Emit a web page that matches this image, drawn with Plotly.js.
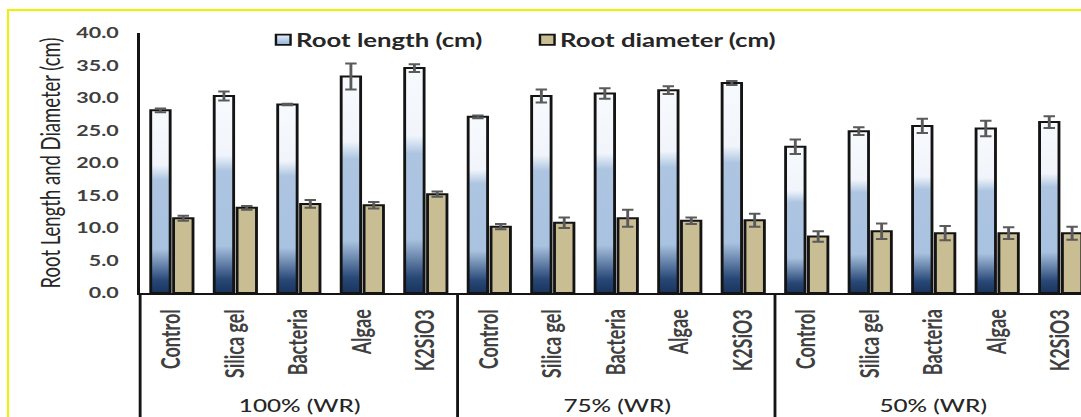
<!DOCTYPE html>
<html><head><meta charset="utf-8">
<script src="https://cdn.plot.ly/plotly-3.0.1.min.js"></script>
<style>
html,body{margin:0;padding:0;background:#fff;overflow:hidden;width:1081px;height:417px;}
#wrap{position:absolute;left:0;top:0;width:756px;height:417px;transform:scaleX(1.4299);transform-origin:0 0;}
#frame{position:absolute;left:7px;top:9px;width:1200px;height:500px;border-top:2px solid #f0f000;border-left:2px solid #f0f000;pointer-events:none;}
</style></head><body>
<div id="wrap"><div id="chart" style="width:756px;height:417px"></div></div>
<div id="frame"></div>
<script>
var groups = ['100% (WR)', '75% (WR)', '50% (WR)'];
var treatments = ['Control', 'Silica gel', 'Bacteria', 'Algae', 'K2SiO3'];
var rootLength    = [28.1, 30.3, 29.0, 33.3, 34.6,  27.1, 30.3, 30.7, 31.2, 32.3,  22.5, 24.9, 25.7, 25.3, 26.3];
var rootLengthErr = [0.3, 0.7, 0.1, 2.0, 0.6,  0.2, 1.0, 0.8, 0.6, 0.3,  1.1, 0.6, 1.1, 1.2, 0.9];
var rootDiameter    = [11.5, 13.1, 13.7, 13.5, 15.2,  10.2, 10.8, 11.5, 11.1, 11.2,  8.7, 9.5, 9.2, 9.2, 9.2];
var rootDiameterErr = [0.4, 0.3, 0.6, 0.5, 0.4,  0.4, 0.8, 1.3, 0.5, 1.0,  0.8, 1.2, 1.1, 0.9, 1.0];
var seriesNames = ['Root length (cm)', 'Root diameter (cm)'];

var xs = [], tickText = [];
groups.forEach(function(g, gi){
  treatments.forEach(function(t, ti){ xs.push(gi * treatments.length + ti); tickText.push(t); });
});

var errStyle = {type:'data', color:'#5a5a5a', thickness:2, width:4, visible:true};
var traces = [
  {type:'bar', name:seriesNames[0], x:xs, y:rootLength, legend:'legend',
   error_y:Object.assign({array:rootLengthErr}, errStyle),
   marker:{color:'#a9c2e0', line:{color:'#141414', width:2}}},
  {type:'bar', name:seriesNames[1], x:xs, y:rootDiameter, legend:'legend2',
   error_y:Object.assign({array:rootDiameterErr}, errStyle),
   marker:{color:'#c8bd93', line:{color:'#141414', width:2}}}
];

var shapes = [{type:'line', xref:'paper', yref:'paper', x0:0, x1:0, y0:0, y1:-0.6, line:{color:'#141414', width:2}}];
var annotations = [];
groups.forEach(function(g, gi){
  var n = treatments.length;
  if (gi > 0) shapes.push({type:'line', xref:'x', yref:'paper', x0:gi*n-0.5, x1:gi*n-0.5, y0:0, y1:-0.6, line:{color:'#141414', width:2}});
  annotations.push({text:g, xref:'x', yref:'paper', x:gi*n+(n-1)/2, y:-0.431, yanchor:'middle', showarrow:false,
    font:{family:'Lato', size:17, color:'#262626', weight:500}});
});

var legFont = {family:'Lato', size:18, color:'#262626', weight:'bold'};
var layout = {
  width:756, height:417,
  margin:{l:98, r:0, t:33, b:124},
  paper_bgcolor:'#fff', plot_bgcolor:'#fff',
  barmode:'group', bargap:0.28, bargroupgap:0.15,
  showlegend:true,
  legend:{orientation:'h', x:0.105, xanchor:'left', y:0.973, yanchor:'middle', font:legFont, bgcolor:'rgba(0,0,0,0)'},
  legend2:{orientation:'h', x:0.3856, xanchor:'left', y:0.973, yanchor:'middle', font:legFont, bgcolor:'rgba(0,0,0,0)'},
  xaxis:{range:[-0.5, 14.32], tickmode:'array', tickvals:xs, ticktext:tickText, tickangle:-90,
    tickfont:{family:'Lato', size:18, color:'#404040', weight:'bold'},
    showline:true, linecolor:'#141414', linewidth:2, ticks:'', showgrid:false, zeroline:false, ticklabelstandoff:7},
  yaxis:{range:[0,40], dtick:5, tickformat:'.1f', showline:true, linecolor:'#141414', linewidth:2,
    ticks:'', showgrid:false, zeroline:false, ticklabelstandoff:10,
    tickfont:{family:'Lato', size:15, color:'#404040', weight:'bold'},
    title:{text:'Root Length and Diameter (cm)', font:{family:'Lato', size:18.5, color:'#262626'}, standoff:6}},
  shapes:shapes, annotations:annotations
};

function addGrad(defs, id, stops){
  var ns = 'http://www.w3.org/2000/svg';
  var lg = document.createElementNS(ns, 'linearGradient');
  lg.setAttribute('id', id);
  lg.setAttribute('x1', '0'); lg.setAttribute('y1', '1'); lg.setAttribute('x2', '0'); lg.setAttribute('y2', '0');
  stops.forEach(function(s){
    var st = document.createElementNS(ns, 'stop');
    st.setAttribute('offset', s[0]); st.setAttribute('stop-color', s[1]);
    lg.appendChild(st);
  });
  defs.appendChild(lg);
}

function applyStyle(gd){
  var svg = gd.querySelector('.main-svg');
  var defs = svg.querySelector('defs');
  if (!document.getElementById('rlgrad')) {
    addGrad(defs, 'rlgrad', [[0,'#1a345c'],[0.07,'#284877'],[0.24,'#a9c2e0'],[0.62,'#adc5e1'],[0.70,'#f1f5fb'],[1,'#f7fafd']]);
    addGrad(defs, 'rlgradleg', [[0,'#8fb0d8'],[1,'#eaf1fa']]);
  }
  var barTraces = gd.querySelectorAll('.barlayer .trace');
  if (barTraces[0]) barTraces[0].querySelectorAll('.points path').forEach(function(p){ p.style.fill = 'url(#rlgrad)'; });
  gd.querySelectorAll('.legendpoints').forEach(function(g, i){
    g.setAttribute('transform', 'translate(31,0) scale(0.85) translate(-20,0)');
    if (i === 0) g.querySelectorAll('path').forEach(function(p){ p.style.fill = 'url(#rlgradleg)'; });
  });
}

var gd = document.getElementById('chart');
Plotly.newPlot(gd, traces, layout, {staticPlot:true, displayModeBar:false, responsive:false}).then(function(){
  applyStyle(gd);
  gd.on('plotly_afterplot', function(){ applyStyle(gd); });
});
</script>
</body></html>
